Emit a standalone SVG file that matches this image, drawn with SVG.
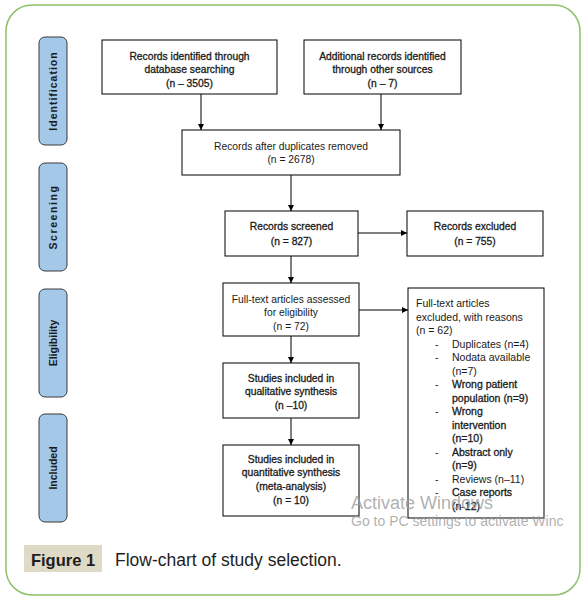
<svg xmlns="http://www.w3.org/2000/svg" width="587" height="600" viewBox="0 0 587 600">
<style>
.frame{fill:#ffffff;stroke:#8cc06a;stroke-width:1.5}
.phase rect{fill:#a3c8e8;stroke:#3a3a3a;stroke-width:1}
.phase text{font-family:"Liberation Sans",Arial,sans-serif;font-size:10.5px;font-weight:bold;fill:#1a1a1a;text-anchor:middle}
.box rect,.lbox rect{fill:#ffffff;stroke:#000000;stroke-width:1}
.box text{font-family:"Liberation Sans",Arial,sans-serif;font-size:10.3px;fill:#1a1a1a;text-anchor:middle}
.lbox text{font-family:"Liberation Sans",Arial,sans-serif;font-size:10.5px;fill:#1a1a1a;text-anchor:start}
.b{stroke:#1a1a1a;stroke-width:0.3}
.conn line{stroke:#000000;stroke-width:1}
.cap{font-family:"Liberation Sans",Arial,sans-serif;fill:#1e1e1e}
.wm{font-family:"Liberation Sans",Arial,sans-serif;fill:#9c9c9c;fill-opacity:0.8}
</style>
<defs>
<marker id="ah" viewBox="0 0 10 10" refX="10" refY="5" markerWidth="6" markerHeight="6" orient="auto" markerUnits="userSpaceOnUse">
<path d="M0,0 L10,5 L0,10 z" fill="#000000"/>
</marker>
</defs>

<rect class="frame" x="6" y="5" width="574" height="590" rx="26" ry="26"/>

<g id="phase-identification" class="phase">
<rect x="39" y="37" width="28" height="108" rx="6" ry="6"/>
<text transform="translate(57,91) rotate(-90)" letter-spacing="1">Identification</text>
</g>
<g id="phase-screening" class="phase">
<rect x="39" y="163" width="28" height="108" rx="6" ry="6"/>
<text transform="translate(57,217) rotate(-90)" letter-spacing="1.6">Screening</text>
</g>
<g id="phase-eligibility" class="phase">
<rect x="39" y="289" width="28" height="108" rx="6" ry="6"/>
<text transform="translate(57,343) rotate(-90)">Eligibility</text>
</g>
<g id="phase-included" class="phase">
<rect x="39" y="414" width="28" height="108" rx="6" ry="6"/>
<text transform="translate(57,468) rotate(-90)">Included</text>
</g>

<g id="connectors" class="conn">
<line x1="201" y1="94" x2="201" y2="130" marker-end="url(#ah)"/>
<line x1="381" y1="94" x2="381" y2="130" marker-end="url(#ah)"/>
<line x1="291" y1="175" x2="291" y2="211" marker-end="url(#ah)"/>
<line x1="358" y1="233" x2="407" y2="233" marker-end="url(#ah)"/>
<line x1="291" y1="256" x2="291" y2="283" marker-end="url(#ah)"/>
<line x1="359" y1="310" x2="408" y2="310" marker-end="url(#ah)"/>
<line x1="291" y1="336" x2="291" y2="363" marker-end="url(#ah)"/>
<line x1="291" y1="418" x2="291" y2="445" marker-end="url(#ah)"/>
</g>

<g id="node-db" class="box">
<rect x="102" y="40" width="175" height="54"/>
<text class="b" x="189.5" y="59.5">Records identified through</text>
<text class="b" x="189.5" y="73">database searching</text>
<text class="b" x="189.5" y="86.5">(n – 3505)</text>
</g>
<g id="node-other" class="box">
<rect x="304" y="40" width="157" height="54"/>
<text class="b" x="382.5" y="59.5">Additional records identified</text>
<text class="b" x="382.5" y="73">through other sources</text>
<text class="b" x="382.5" y="86.5">(n – 7)</text>
</g>
<g id="node-dedup" class="box">
<rect x="182" y="130" width="218" height="45"/>
<text x="291" y="149.5">Records after duplicates removed</text>
<text x="291" y="162.5">(n = 2678)</text>
</g>
<g id="node-screened" class="box">
<rect x="225" y="211" width="133" height="45"/>
<text class="b" x="291.5" y="230">Records screened</text>
<text class="b" x="291.5" y="244.5">(n = 827)</text>
</g>
<g id="node-excluded" class="box">
<rect x="407" y="211" width="136" height="45"/>
<text class="b" x="475" y="230">Records excluded</text>
<text class="b" x="475" y="244.5">(n = 755)</text>
</g>
<g id="node-fulltext" class="box">
<rect x="223" y="283" width="136" height="53"/>
<text x="291" y="302.5">Full-text articles assessed</text>
<text x="291" y="316">for eligibility</text>
<text x="291" y="329.5">(n = 72)</text>
</g>
<g id="node-ftexcluded" class="lbox">
<rect x="408" y="288" width="136" height="230"/>
<text x="416" y="307">Full-text articles</text>
<text x="416" y="320.5">excluded, with reasons</text>
<text x="416" y="334">(n = 62)</text>
<text x="435" y="347.5">-</text><text x="452" y="347.5">Duplicates (n=4)</text>
<text x="435" y="361">-</text><text x="452" y="361">Nodata available</text>
<text x="452" y="374.5">(n=7)</text>
<text x="435" y="388">-</text><text class="b" x="452" y="388">Wrong patient</text>
<text class="b" x="452" y="401.5">population (n=9)</text>
<text x="435" y="415">-</text><text class="b" x="452" y="415">Wrong</text>
<text class="b" x="452" y="428.5">intervention</text>
<text class="b" x="452" y="442">(n=10)</text>
<text x="435" y="455.5">-</text><text class="b" x="452" y="455.5">Abstract only</text>
<text class="b" x="452" y="469">(n=9)</text>
<text x="435" y="482.5">-</text><text x="452" y="482.5">Reviews (n–11)</text>
<text x="435" y="496">-</text><text class="b" x="452" y="496">Case reports</text>
<text class="b" x="452" y="509.5">(n-12)</text>
</g>
<g id="node-qual" class="box">
<rect x="223" y="363" width="136" height="55"/>
<text class="b" x="291" y="381.5">Studies included in</text>
<text class="b" x="291" y="395">qualitative synthesis</text>
<text class="b" x="291" y="408.5">(n –10)</text>
</g>
<g id="node-quant" class="box">
<rect x="223" y="445" width="136" height="71"/>
<text class="b" x="291" y="462.5">Studies included in</text>
<text class="b" x="291" y="476">quantitative synthesis</text>
<text class="b" x="291" y="490">(meta-analysis)</text>
<text class="b" x="291" y="503.5">(n = 10)</text>
</g>

<g id="watermark">
<text class="wm" x="351" y="509" font-size="18">Activate Windows</text>
<text class="wm" x="351" y="526" font-size="14">Go to PC settings to activate Winc</text>
</g>

<g id="caption">
<rect x="24" y="545" width="78" height="27" fill="#dedac6"/>
<text class="cap" x="63" y="566" font-size="16.5" font-weight="bold" text-anchor="middle">Figure 1</text>
<text class="cap" x="115" y="566" font-size="17.5">Flow-chart of study selection.</text>
</g>
</svg>
